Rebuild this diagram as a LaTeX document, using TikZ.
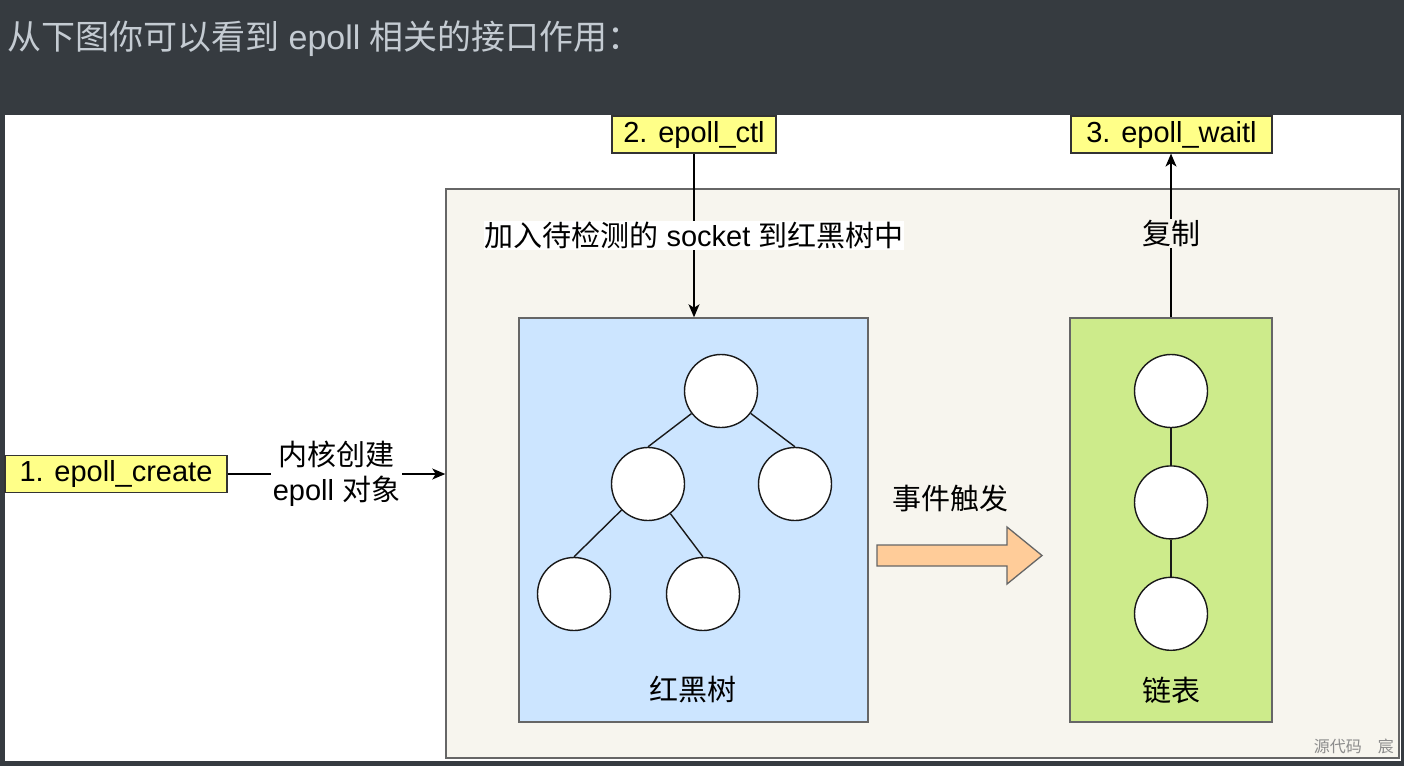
\documentclass[tikz,border=0pt]{standalone}
\usepackage{fontspec}
\setmainfont{Liberation Sans}
\newfontfamily\cjk{Noto Sans CJK SC}
\usetikzlibrary{arrows.meta, positioning}

\definecolor{pagebg}{HTML}{363B40}
\definecolor{titlegray}{HTML}{C4CBD2}
\definecolor{kernbg}{HTML}{F7F5EE}
\definecolor{treebg}{HTML}{CCE5FF}
\definecolor{listbg}{HTML}{CDEB8B}
\definecolor{apibg}{HTML}{FFFF88}
\definecolor{evtbg}{HTML}{FFCC99}

\begin{document}
\begin{tikzpicture}[
    x=1pt, y=-1pt,
    txt/.style={font=\fontsize{29}{35}\selectfont, text=black},
    api/.style={rectangle, draw=black!80, fill=apibg, line width=1.2pt, txt, minimum height=37pt, inner sep=0pt},
    box/.style={rectangle, draw=black!60, line width=1.5pt, inner sep=0pt},
    knot/.style={circle, draw=black!90, fill=white, line width=1.4pt, minimum size=73pt, inner sep=0pt},
    link/.style={line width=1.4pt, black!90},
    arrow/.style={-{Stealth[length=13pt, width=11pt, inset=3.5pt]}, line width=1.3pt},
    lbl/.style={txt, inner sep=1pt, align=center}
    ]

% Page
\useasboundingbox (0,0) rectangle (1404,766);
\fill[pagebg] (0,0) rectangle (1404,766);
\fill[white] (5,115) rectangle (1401,761);
\node[anchor=west, inner sep=0pt, text=titlegray, font=\fontsize{34}{38}\selectfont] (title) at (7,39)
    {{\cjk 从下图你可以看到} epoll {\cjk 相关的接口作用：}};

% Containers
\node[box, fill=kernbg, minimum width=953pt, minimum height=569pt] (kernel) at (922.5,473.5) {};
\node[box, fill=treebg, minimum width=349pt, minimum height=404pt] (tree) at (693.5,520) {};
\node[box, fill=listbg, minimum width=202pt, minimum height=404pt] (list) at (1171,520) {};

% Interface calls
\node[api, minimum width=222pt] (create) at (116,474) {1. epoll\_create};
\node[api, minimum width=164pt] (ctl) at (694,134.5) {2. epoll\_ctl};
\node[api, minimum width=201pt] (wait) at (1171.5,134.5) {3. epoll\_waitl};

% Red-black tree
\node[knot] (root) at (721,391) {};
\node[knot] (left) at (648,484) {};
\node[knot] (right) at (795,484) {};
\node[knot] (leftleft) at (574,594) {};
\node[knot] (leftright) at (703,594) {};
\node[lbl] (treename) at (693,690) {\cjk 红黑树};

% Ready list
\node[knot] (first) at (1171,391) {};
\node[knot] (second) [below=37pt of first] {};
\node[knot] (third) [below=37pt of second] {};
\node[lbl] (listname) at (1171,690) {\cjk 链表};

% Tree links
\draw[link] (root) -- (left.north);
\draw[link] (root) -- (right.north);
\draw[link] (left) -- (leftleft.north);
\draw[link] (left) -- (leftright.north);
\draw[link] (first) -- (second);
\draw[link] (second) -- (third);

% Arrows
\draw[arrow] (create.east) -- node[lbl, fill=white, inner xsep=2pt] (createlbl) {{\cjk 内核创建}\\epoll {\cjk 对象}} (kernel.west |- create);
\draw[arrow] (ctl.south) -- node[lbl, fill=white, pos=0.5] (ctllbl) {{\cjk 加入待检测的} socket {\cjk 到红黑树中}} (ctl.south |- tree.north);
\draw[arrow] (list.north) -- node[lbl, fill=kernbg, pos=0.51] (copylbl) {\cjk 复制} (list.north |- wait.south);

% Event trigger
\coordinate (evt) at (877,555.5);
\draw[fill=evtbg, draw=black!60, line width=1.3pt, line join=miter]
    (evt) ++(0,-10.5) -- ++(130,0) -- ++(0,-18) -- ++(35,28.5) -- ++(-35,28.5) -- ++(0,-18) -- ++(-130,0) -- cycle;
\node[lbl] (evtlbl) at (950,498) {\cjk 事件触发};

% Watermark
\node[anchor=east, inner sep=0pt, text=black!45, font=\cjk\fontsize{16}{18}\selectfont] (mark) at (1394,746) {源代码\quad 宸};

\end{tikzpicture}
\end{document}
